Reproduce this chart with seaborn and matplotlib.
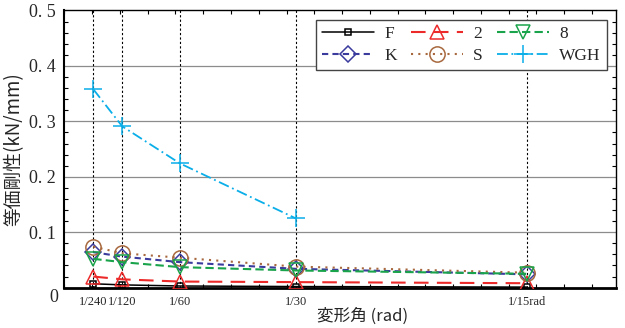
import numpy as np
import pandas as pd
import matplotlib
matplotlib.use("Agg")
import matplotlib.pyplot as plt
import matplotlib.transforms as mtransforms
from matplotlib.ticker import MultipleLocator
import seaborn as sns

# ---- data ----
x_labels = ["1/240", "1/120", "1/60", "1/30", "1/15rad"]
x_vals = [1/240, 1/120, 1/60, 1/30, 1/15]
F_vals = [0.007, 0.005, 0.003, 0.002, 0.001]
s2_vals = [0.020, 0.015, 0.011, 0.010, 0.008]
s8_vals = [0.052, 0.046, 0.037, 0.031, 0.025]
K_vals = [0.064, 0.056, 0.046, 0.034, 0.024]
S_vals = [0.074, 0.062, 0.054, 0.038, 0.027]
WGH_vals = [0.358, 0.291, 0.224, 0.125]
y_ticks = [0.1, 0.2, 0.3, 0.4, 0.5]
y_tick_labels = ["0. 1", "0. 2", "0. 3", "0. 4", "0. 5"]

series = [
    ("F", F_vals, dict(color="black", marker="s", ms=5, dashes=(None, None), lw=1.1)),
    ("K", K_vals, dict(color="#3b3b9e", marker="D", ms=8, dashes=(3, 2), lw=1.5)),
    ("2", s2_vals, dict(color="#ec2a2a", marker="^", ms=10, dashes=(7, 4), lw=1.5)),
    ("S", S_vals, dict(color="#a8683e", marker="o", ms=11, dashes=(1, 2.5), lw=1.5)),
    ("8", s8_vals, dict(color="#19a34a", marker="v", ms=10, dashes=(4, 2), lw=1.5)),
    ("WGH", WGH_vals, dict(color="#0aaee8", marker="+", ms=13, dashes=(6, 2, 1, 2), lw=1.3)),
]

sns.set_theme(style="white")
plt.rcParams["font.family"] = ["Liberation Serif", "Noto Sans CJK JP", "DejaVu Sans"]

fig = plt.figure(figsize=(6.25, 3.28), dpi=100)
ax = fig.add_axes([0.103, 0.123, 0.883, 0.845])

# grids
for yv in y_ticks[:-1]:
    ax.axhline(yv, color="#8c8c8c", lw=0.9, zorder=0)
for xv in x_vals:
    ax.axvline(xv, color="black", lw=0.8, ls=(0, (2, 2)), zorder=0)

for name, vals, st in series:
    df = pd.DataFrame({"x": x_vals[:len(vals)], "y": vals})
    d = st["dashes"]
    ls = "-" if d[0] is None else (0, d)
    sns.lineplot(data=df, x="x", y="y", ax=ax, color=st["color"], marker=st["marker"],
                 markersize=st["ms"], markerfacecolor="none", markeredgecolor=st["color"],
                 markeredgewidth=1.1, linestyle=ls, lw=st["lw"], label=name,
                 sort=False, errorbar=None, zorder=3)

ax.set_xlim(0, 0.0795)
ax.set_ylim(0, 0.5)
ax.set_xticks(x_vals)
ax.set_xticklabels(x_labels, fontsize=9, family="Liberation Serif")
# nudge the crowded 1/120 label slightly right, as in the reference
lbls = ax.get_xticklabels()
lbls[1].set_transform(lbls[1].get_transform() +
                      mtransforms.ScaledTranslation(4 / 100, 0, fig.dpi_scale_trans))
lbls[0].set_transform(lbls[0].get_transform() +
                      mtransforms.ScaledTranslation(-1 / 100, 0, fig.dpi_scale_trans))
ax.set_yticks(y_ticks)
ax.set_yticklabels(y_tick_labels, fontsize=13, family="Liberation Serif")
ax.xaxis.set_minor_locator(MultipleLocator(0.004))
ax.yaxis.set_minor_locator(MultipleLocator(0.02))
ax.tick_params(which="both", direction="in", top=True, right=True, bottom=True, left=True,
               color="black")
ax.tick_params(which="major", length=0, pad=6)
ax.tick_params(which="minor", length=3, width=0.8)
for sp in ax.spines.values():
    sp.set_color("black")
    sp.set_linewidth(1.0)
ax.spines["bottom"].set_linewidth(2.0)
ax.spines["left"].set_linewidth(1.5)

ax.text(-0.012, -0.035, "0", transform=ax.transAxes, fontsize=13,
        family="Liberation Serif", ha="right", va="center")

ax.set_xlabel("変形角 (rad)", fontsize=12, family=["Noto Sans CJK JP", "DejaVu Sans"])
ax.xaxis.set_label_coords(0.54, -0.072)
ax.set_ylabel("等価剛性(kN/mm)", fontsize=13.5, family=["Noto Sans CJK JP", "DejaVu Sans"])
ax.yaxis.set_label_coords(-0.072, 0.5)

leg = ax.legend(loc="upper right", bbox_to_anchor=(0.983, 0.967), ncol=3, frameon=True,
                fancybox=False, edgecolor="#444444", framealpha=1, handlelength=3.0,
                columnspacing=0.8, handletextpad=0.6, borderpad=0.35, labelspacing=0.35,
                borderaxespad=0.0, prop={"family": "Liberation Serif", "size": 12.5})
leg.get_frame().set_linewidth(1.0)

fig.savefig("out.png", dpi=100)
